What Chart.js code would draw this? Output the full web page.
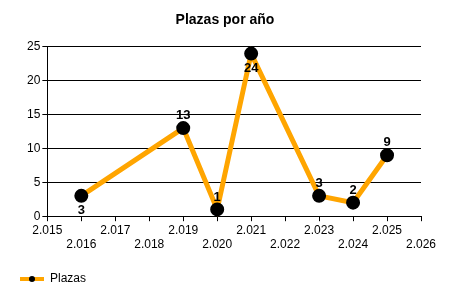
<!DOCTYPE html>
<html>
<head>
<meta charset="utf-8">
<script src="https://cdn.jsdelivr.net/npm/chart.js@4/dist/chart.umd.min.js"></script>
<style>
  body { margin: 0; background: #fff; }
</style>
</head>
<body>
<canvas id="plazasChart" width="450" height="300"></canvas>
<script>
// data
const years = [2016, 2019, 2020, 2021, 2023, 2024, 2025];
const plazas = [3, 13, 1, 24, 3, 2, 9];
const labelBelow = [true, false, false, true, false, false, false];

// legend symbol: orange line with black dot
const legendMark = document.createElement('canvas');
legendMark.width = 24; legendMark.height = 8;
(function () {
    const c = legendMark.getContext('2d');
    c.fillStyle = '#FFA500';
    c.fillRect(0, 2, 24, 4);
    c.fillStyle = '#000';
    c.beginPath(); c.arc(12, 4, 3, 0, Math.PI * 2); c.fill();
})();

// value labels above / below the points
const valueLabels = {
    id: 'valueLabels',
    afterDatasetsDraw(chart) {
        const ctx = chart.ctx;
        const meta = chart.getDatasetMeta(0);
        ctx.save();
        ctx.font = 'bold 13px "Liberation Sans", Arial, sans-serif';
        ctx.fillStyle = '#000';
        ctx.textAlign = 'center';
        meta.data.forEach((pt, i) => {
            if (labelBelow[i]) {
                ctx.textBaseline = 'top';
                ctx.fillText(plazas[i], pt.x, pt.y + 8);
            } else {
                ctx.textBaseline = 'bottom';
                ctx.fillText(plazas[i], pt.x, pt.y - 6);
            }
        });
        ctx.restore();
    }
};

new Chart(document.getElementById('plazasChart').getContext('2d'), {
    type: 'line',
    data: {
        datasets: [{
            label: 'Plazas',
            data: years.map((y, i) => ({ x: y, y: plazas[i] })),
            borderColor: '#FFA500',
            borderWidth: 5,
            pointBackgroundColor: '#000',
            pointBorderColor: '#000',
            pointRadius: 4.5,
            pointStyle: 'circle',
            tension: 0
        }]
    },
    options: {
        responsive: false,
        animation: false,
        layout: { padding: { left: 1, right: 1, top: 0, bottom: 5 } },
        plugins: {
            title: {
                display: true,
                text: 'Plazas por año',
                color: '#000',
                font: { family: '"Liberation Sans", Arial, sans-serif', size: 14, weight: 'bold' },
                padding: { top: 12, bottom: 18 }
            },
            legend: {
                position: 'bottom',
                align: 'start',
                labels: {
                    color: '#000',
                    padding: 19,
                    pointStyleWidth: 24,
                    font: { family: '"Liberation Sans", Arial, sans-serif', size: 12 },
                    usePointStyle: true,
                    generateLabels: () => [{ text: 'Plazas', pointStyle: legendMark, fillStyle: '#FFA500', strokeStyle: '#FFA500', lineWidth: 0, datasetIndex: 0 }]
                }
            },
            tooltip: { enabled: false }
        },
        scales: {
            x: {
                type: 'linear',
                min: 2015,
                max: 2026,
                afterFit: (axis) => { axis.paddingRight = 29; },
                ticks: {
                    stepSize: 1,
                    color: '#000',
                    maxRotation: 0,
                    autoSkip: false,
                    padding: 2,
                    font: { family: '"Liberation Sans", Arial, sans-serif', size: 12 },
                    callback: (v) => {
                        const s = String(v).replace(/^(\d)(\d{3})$/, '$1.$2');
                        return (v - 2015) % 2 === 0 ? [s, ''] : ['', s];
                    }
                },
                grid: { drawOnChartArea: false, drawTicks: true, tickLength: 5, color: '#000' },
                border: { color: '#000' }
            },
            y: {
                min: 0,
                max: 25,
                afterFit: (axis) => { axis.width += 24; },
                ticks: {
                    stepSize: 5,
                    color: '#000',
                    padding: 2,
                    font: { family: '"Liberation Sans", Arial, sans-serif', size: 12 }
                },
                grid: { color: '#000', tickLength: 5 },
                border: { color: '#000' }
            }
        }
    },
    plugins: [valueLabels]
});
</script>
</body>
</html>
